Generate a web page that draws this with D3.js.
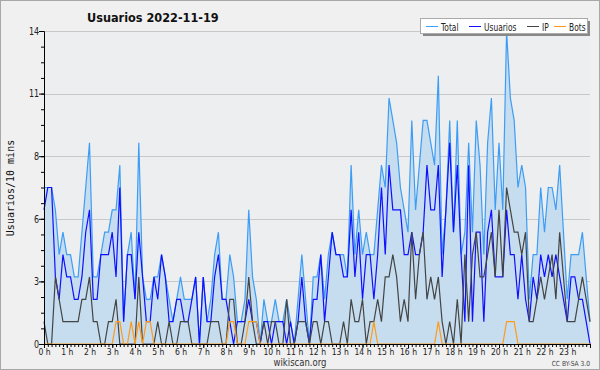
<!DOCTYPE html>
<html>
<head>
<meta charset="utf-8">
<script src="https://cdn.jsdelivr.net/npm/d3@7"></script>
<style>
  body { margin: 0; background: #f0f0f0; }
  text { font-family: "DejaVu Sans", sans-serif; }
</style>
</head>
<body>
<div id="chart"></div>
<script>
var svgWidth = 600;
var svgHeight = 370;
var margin = { top: 31, right: 10, bottom: 26, left: 44 };

// 10-minute slots, 0h00 .. 24h00
var hourLabels = d3.range(24).map(h => h + " h");
var yTicks = [0, 2.8, 5.6, 8.4, 11.2, 14];

var total = [7,7,7,6,4,5,4,4,3,3, 5,7,9,3,3,4,5,5,6,6, 8,1,4,5,2,9,3,2,2,3,
  3,4,3,2,1,2,3,2,2,2, 3,0,3,1,2,4,5,2,2,4, 3,1,1,2,6,3,2,0,
  2,1,1,2,1,1,2,1,0,2, 4,2,0,3,3,4,2,4,5,4, 4,4,3,8,4,6,4,5,4,
  4,6,8,7,11,10,9,7,6,5, 10,6,8,10,10,9,8,12,4,6, 10,5,10,4,5,9,5,10,8,
  4,9,11,6,9,6,14,11,10,7, 8,7,2,4,4,7,5,7,7,6, 8,5,2,4,4,4,5,3,1];
var usuarios = [6,7,7,3,2,4,3,3,2,2, 3,5,6,2,2,4,4,4,5,3, 7,1,4,4,2,5,3,1,1,3,
  2,4,3,1,1,2,2,1,1,2, 3,0,3,1,1,3,4,2,2,1, 0,1,1,1,2,1,1,0,
  1,1,0,1,1,1,0,1,0,1, 3,1,0,2,2,4,1,3,5,4, 4,3,3,6,3,5,2,4,4,
  2,4,7,4,8,6,6,6,4,4, 5,4,4,5,8,6,6,8,3,6, 9,5,8,4,1,8,1,5,5,
  1,5,6,3,3,3,6,4,4,2, 4,2,1,3,2,4,3,4,3,4, 3,2,1,3,3,2,2,1,0];
var ip = [1,0,0,3,2,1,1,1,1,1, 2,2,3,1,1,0,0,1,1,2, 0,0,0,0,0,3,0,0,0,0,
  1,0,0,1,0,0,1,1,1,0, 0,0,0,0,1,1,1,0,0,2, 2,0,0,1,3,1,0,0,
  1,0,1,1,0,0,2,0,0,1, 1,1,0,1,1,0,1,1,0,0, 0,1,0,2,1,1,2,0,1,
  1,2,1,3,3,4,3,1,2,1, 5,2,4,5,2,3,2,3,1,0, 1,0,2,0,4,1,4,5,3,
  3,4,5,3,6,3,7,6,5,5, 4,5,1,1,2,3,2,3,4,2, 5,3,1,1,1,2,3,2,1];
var bots = [0,0,0,0,0,0,0,0,0,0, 0,0,0,0,0,0,0,0,0,1, 1,0,0,1,0,1,0,1,1,0,
  0,0,0,0,0,0,0,0,0,0, 0,0,0,0,0,0,0,0,0,1, 1,0,0,0,1,1,1,0,
  0,0,0,0,0,0,0,0,0,0, 0,0,0,0,0,0,0,0,0,0, 0,0,0,0,0,0,0,0,0,
  1,0,0,0,0,0,0,0,0,0, 0,0,0,0,0,0,0,1,0,0, 0,0,0,0,0,0,0,0,0,
  0,0,0,0,0,0,1,1,1,0, 0,0,0,0,0,0,0,0,0,0, 0,0,0,0,0,0,0,0,0];

var seriesNames = ["Total", "Usuarios", "IP", "Bots"];
var seriesColors = ["#3d9df5", "#1010ff", "#444444", "#ff9a1a"];

var svg = d3.select("#chart")
  .append("svg")
  .attr("width", svgWidth)
  .attr("height", svgHeight);

svg.append("rect")
  .attr("x", 0.5).attr("y", 0.5)
  .attr("width", svgWidth - 1).attr("height", svgHeight - 1)
  .attr("fill", "#f0f0f0")
  .attr("stroke", "#a8a8a8");

var nSlots = total.length - 1;
var x = d3.scaleLinear().domain([0, nSlots]).range([margin.left, svgWidth - margin.right]);
var y = d3.scaleLinear().domain([0, 14]).range([svgHeight - margin.bottom, margin.top]);

// narrow text: squeeze horizontally around the anchor point
function narrowText(g, px, py, str, size, sx, anchor) {
  return g.append("g")
    .attr("transform", `translate(${px},${py}) scale(${sx},1)`)
    .append("text")
    .attr("font-size", size)
    .attr("text-anchor", anchor || "start")
    .text(str);
}

// plot background
svg.append("rect")
  .attr("x", x(0)).attr("y", y(14))
  .attr("width", x(nSlots) - x(0)).attr("height", y(0) - y(14))
  .attr("fill", "#eceef0");

// grid
svg.append("g").selectAll("line")
  .data(yTicks.slice(1))
  .enter().append("line")
  .attr("x1", x(0)).attr("x2", x(nSlots))
  .attr("y1", d => Math.round(y(d)) + 0.5).attr("y2", d => Math.round(y(d)) + 0.5)
  .attr("stroke", "#c8c8c8");

var line = d3.line().x((d, i) => x(i)).y(d => y(d));
var area = d3.area().x((d, i) => x(i)).y0(y(0)).y1(d => y(d));

svg.append("path").datum(total)
  .attr("d", area)
  .attr("fill", "#c6ddf0");

[total, usuarios, ip, bots].forEach(function(s, k) {
  svg.append("path").datum(s)
    .attr("d", line)
    .attr("fill", "none")
    .attr("stroke", seriesColors[k])
    .attr("stroke-width", 1.2);
});

// y axis
var yAxis = d3.axisLeft(y).tickValues(yTicks).tickFormat(d => Math.round(d)).tickSize(5).tickPadding(1);
var gy = svg.append("g").attr("transform", `translate(${x(0)},0)`).call(yAxis);
gy.select(".domain").attr("stroke", "#000");
gy.selectAll("text").attr("font-size", 10).attr("fill", "#222")
  .attr("transform", "scale(0.8,1)");
svg.append("g").attr("transform", `translate(${x(0)},0)`)
  .call(d3.axisLeft(y).tickValues(d3.range(0, 14.01, 0.7)).tickFormat("").tickSize(3))
  .select(".domain").remove();

// x axis
var gx = svg.append("g").attr("transform", `translate(0,${y(0)})`)
  .call(d3.axisBottom(x).tickValues(d3.range(0, 144, 6)).tickFormat(d => hourLabels[d / 6]).tickSize(4).tickPadding(1));
gx.selectAll("text").attr("font-size", 9).attr("fill", "#222")
  .attr("transform", "scale(0.85,1)");
svg.append("g").attr("transform", `translate(0,${y(0)})`)
  .call(d3.axisBottom(x).tickValues(d3.range(0, nSlots + 1)).tickFormat("").tickSize(3))
  .select(".domain").remove();

// title
narrowText(svg, 87, 22, "Usuarios  2022-11-19", 13, 0.87)
  .attr("font-weight", "bold").attr("fill", "#111");

// y label
svg.append("text")
  .attr("transform", "translate(14,188) rotate(-90)")
  .attr("text-anchor", "middle")
  .style("font-family", "'DejaVu Sans Mono', monospace")
  .attr("font-size", 10)
  .attr("fill", "#111")
  .text("Usuarios/10 mins");

narrowText(svg, 300, 366, "wikiscan.org", 10, 0.85, "middle").attr("fill", "#333");
narrowText(svg, 590, 366, "CC BY-SA 3.0", 7, 0.85, "end").attr("fill", "#444");

// legend
var legend = svg.append("g").attr("transform", "translate(420,18)");
legend.append("rect").attr("x", 3).attr("y", 3).attr("width", 167).attr("height", 15).attr("fill", "#888");
legend.append("rect").attr("x", 0.5).attr("y", 0.5).attr("width", 167).attr("height", 15)
  .attr("fill", "#fff").attr("stroke", "#aaa");
var legX = [6, 49, 107, 134];
seriesNames.forEach(function(name, k) {
  legend.append("line")
    .attr("x1", legX[k]).attr("x2", legX[k] + 12)
    .attr("y1", 8.5).attr("y2", 8.5)
    .attr("stroke", seriesColors[k]);
  narrowText(legend, legX[k] + 15, 12.5, name, 10, 0.75).attr("fill", "#222");
});
</script>
</body>
</html>
